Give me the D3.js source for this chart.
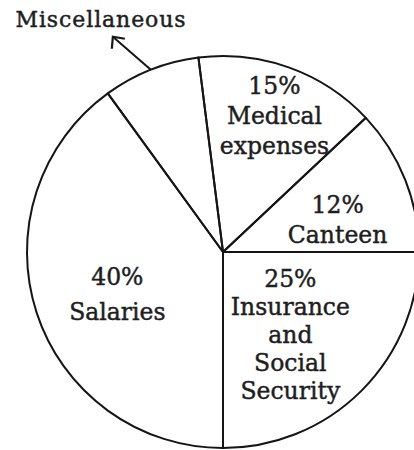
<!DOCTYPE html>
<html>
<head>
<meta charset="utf-8">
<script src="https://cdn.jsdelivr.net/npm/d3@7"></script>
<style>
  body{margin:0;background:#fff;}
  text{font-family:"DejaVu Serif",serif;fill:#1e1e1e;stroke:#1e1e1e;stroke-width:0.45px;}
</style>
</head>
<body>
<script>
// slices, clockwise starting from the bottom (6 o'clock)
var names=["Salaries","Miscellaneous","Medical expenses","Canteen","Insurance and Social Security"]
var percents=[40,8,15,12,25]
// text lines written inside each slice (Miscellaneous is labelled outside)
var lines=[["40%","Salaries"],[],["15%","Medical","expenses"],["12%","Canteen"],["25%","Insurance","and","Social","Security"]]

var screen={width:414,height:450};
var cx=223,cy=252,radius=196;

var svg=d3.select("body")
          .append("svg")
          .attr("width",screen.width)
          .attr("height",screen.height)
var g=svg.append("g").attr("transform","translate("+cx+","+cy+")")

var pie=d3.pie().sort(null).startAngle(Math.PI).endAngle(3*Math.PI)
var arcs=pie(percents)
var arc=d3.arc().innerRadius(0).outerRadius(radius)

g.selectAll("path")
 .data(arcs)
 .enter()
 .append("path")
 .attr("d",arc)
 .attr("fill","none")
 .attr("stroke","#151515")
 .attr("stroke-width",2)
 .attr("stroke-linejoin","round")

// label placement: radius and angle nudge (degrees) for each slice
var labelR=[114,0,145,119,107]
var labelNudge=[-4,0,1,6,6]
var lineH=[35,0,30,30,28]

var polar=function(a,r){return [r*Math.sin(a),-r*Math.cos(a)]}

arcs.forEach(function(d,i){
  if(lines[i].length==0){return;}
  var mid=(d.startAngle+d.endAngle)/2+labelNudge[i]*Math.PI/180
  var p=polar(mid,labelR[i])
  var n=lines[i].length
  var t=g.append("text")
         .attr("text-anchor","middle")
         .attr("font-size",23.5)
  t.selectAll("tspan")
   .data(lines[i])
   .enter()
   .append("tspan")
   .attr("x",p[0])
   .attr("y",function(s,j){return p[1]+(j-(n-1)/2)*lineH[i]+8})
   .text(function(s){return s})
})

// Miscellaneous: arrow out from the arc
var misc=arcs[1]
var mMid=(misc.startAngle+misc.endAngle)/2
var start=polar(mMid,radius)
var tip=[start[0]-38,start[1]-33]
g.append("line")
 .attr("x1",start[0]).attr("y1",start[1])
 .attr("x2",tip[0]).attr("y2",tip[1])
 .attr("stroke","#151515").attr("stroke-width",2)
g.append("path")
 .attr("d","M"+(tip[0]-1)+","+(tip[1]+12)+"L"+tip[0]+","+tip[1]+"L"+(tip[0]+12)+","+(tip[1]+2))
 .attr("fill","none").attr("stroke","#151515").attr("stroke-width",2.2)
svg.append("text")
   .attr("x",101)
   .attr("y",27)
   .attr("text-anchor","middle")
   .attr("font-size",22)
   .attr("letter-spacing",0.9)
   .text(names[1])
</script>
</body>
</html>
